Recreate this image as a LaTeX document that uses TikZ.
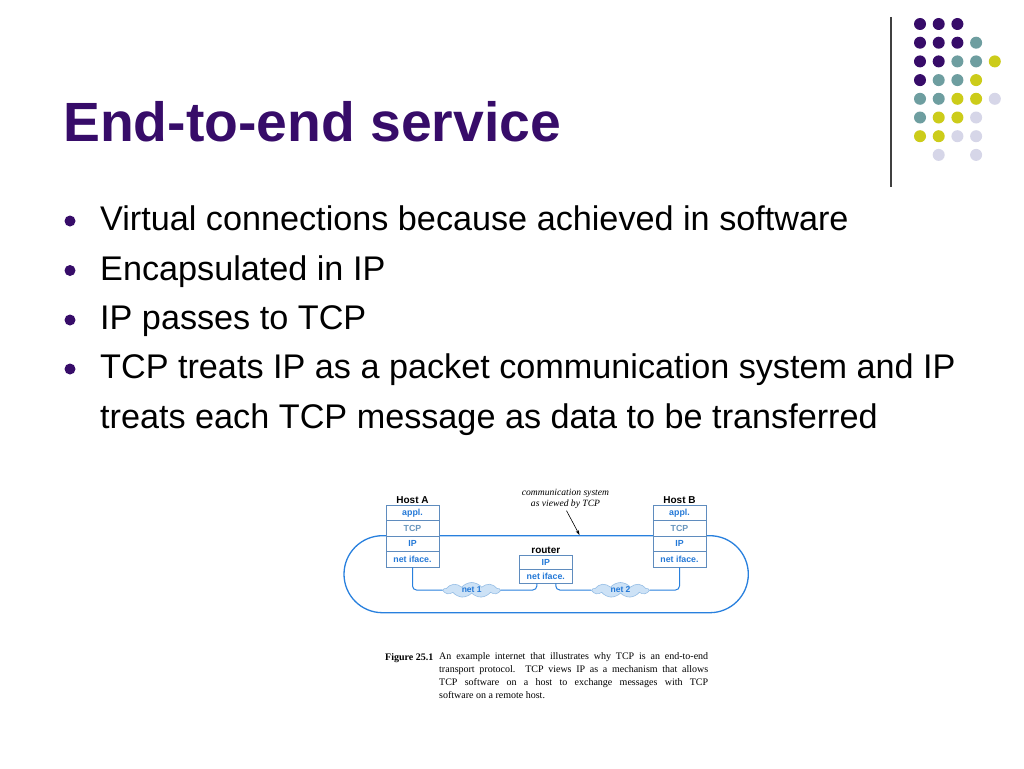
\documentclass[tikz,border=0pt]{standalone}
\usepackage{fontspec}
\setmainfont{Liberation Sans}
\newfontfamily\capserif{Liberation Serif}
\usetikzlibrary{shapes.symbols,arrows.meta}
\definecolor{dp}{RGB}{55,12,105}
\definecolor{dt}{RGB}{110,158,160}
\definecolor{dy}{RGB}{204,204,26}
\definecolor{dl}{RGB}{214,214,232}
\definecolor{netblue}{RGB}{40,128,222}
\definecolor{boxline}{RGB}{95,140,190}
\definecolor{txtblue}{RGB}{35,120,215}
\definecolor{tcpgray}{RGB}{105,150,190}
\definecolor{cloudfill}{RGB}{205,226,246}
\definecolor{cloudline}{RGB}{150,190,230}
\begin{document}
\begin{tikzpicture}[x=1pt,y=-1pt,
  bulletdot/.style={circle,fill=dp,minimum size=11pt,inner sep=0pt},
  bullettext/.style={anchor=base west,inner sep=0pt,font=\fontsize{34.2}{40}\selectfont,text=black},
  layer/.style={draw=boxline,line width=0.7pt,fill=white,minimum width=53pt,minimum height=15.5pt,inner sep=0pt,font=\fontsize{8.8}{10}\selectfont\bfseries,text=txtblue},
  tcplayer/.style={layer,text=tcpgray},
  hostlbl/.style={anchor=south,inner sep=1pt,font=\fontsize{10}{12}\selectfont\bfseries,text=black},
  netline/.style={draw=netblue,line width=1pt,rounded corners=4pt},
  netcloud/.style={cloud,cloud puffs=9,cloud puff arc=100,aspect=4,fill=cloudfill,draw=cloudline,line width=0.6pt,minimum width=56pt,minimum height=15pt,inner sep=0pt,font=\fontsize{8.5}{10}\selectfont\bfseries,text=txtblue}
]
\useasboundingbox[fill=white] (0,0) rectangle (1024,768);

% title
\node[anchor=base west,inner sep=0pt,font=\fontsize{55.3}{62}\selectfont\bfseries,text=dp] (title) at (63,141) {End-to-end service};

% decorative dots and rule
\draw[black!75,line width=1.2pt] (891,17) -- (891,187);
\foreach \c/\r/\col in {0/0/dp,1/0/dp,2/0/dp,
  0/1/dp,1/1/dp,2/1/dp,3/1/dt,
  0/2/dp,1/2/dp,2/2/dt,3/2/dt,4/2/dy,
  0/3/dp,1/3/dt,2/3/dt,3/3/dy,
  0/4/dt,1/4/dt,2/4/dy,3/4/dy,4/4/dl,
  0/5/dt,1/5/dy,2/5/dy,3/5/dl,
  0/6/dy,1/6/dy,2/6/dl,3/6/dl,
  1/7/dl,3/7/dl}
  \fill[\col] ({920+\c*18.7},{24+\r*18.7}) circle (6);

% bullets
\node[bulletdot] (d1) at (70,221) {};
\node[bullettext] (b1) at (100,230.5) {Virtual connections because achieved in software};
\node[bulletdot] (d2) at (70,270.5) {};
\node[bullettext] (b2) at (100,280) {Encapsulated in IP};
\node[bulletdot] (d3) at (70,320) {};
\node[bullettext] (b3) at (100,329.5) {IP passes to TCP};
\node[bulletdot] (d4) at (70,369) {};
\node[bullettext] (b4) at (100,378.5) {TCP treats IP as a packet communication system and IP};
\node[bullettext] (b5) at (100,428) {treats each TCP message as data to be transferred};

% diagram: virtual communication system
\draw[draw=netblue,line width=1.3pt,rounded corners=38.5pt] (344,535.7) rectangle (748.3,612.7);

% Host A
\node[layer] (a1) at (412.5,512.75) {appl.};
\node[tcplayer] (a2) at (412.5,528.25) {TCP};
\node[layer] (a3) at (412.5,543.75) {IP};
\node[layer] (a4) at (412.5,559.25) {net iface.};
\node[hostlbl] (ha) at (a1.north) {Host A};

% Host B
\node[layer] (b1l) at (679.5,512.75) {appl.};
\node[tcplayer] (b2l) at (679.5,528.25) {TCP};
\node[layer] (b3l) at (679.5,543.75) {IP};
\node[layer] (b4l) at (679.5,559.25) {net iface.};
\node[hostlbl] (hb) at (b1l.north) {Host B};

% router
\node[layer,minimum height=14pt] (r1) at (545.8,562.1) {IP};
\node[layer,minimum height=14pt] (r2) at (545.8,576.1) {net iface.};
\node[hostlbl] (rl) at (r1.north) {router};

% clouds
\node[netcloud] (n1) at (471.7,590) {net 1};
\node[netcloud] (n2) at (620.5,590) {net 2};

\draw[netline] (a4.south) |- (n1.west);
\draw[netline] (n1.east) -| ([xshift=-9pt]r2.south);
\draw[netline] ([xshift=10pt]r2.south) |- (n2.west);
\draw[netline] (n2.east) -| (b4l.south);

% label and arrow
\node[inner sep=0pt,align=center,font=\capserif\itshape\fontsize{9.6}{10.5}\selectfont] (cs) at (565.5,499) {communication system\\as viewed by TCP};
\coordinate (tip) at (579.5,535);
\draw[black,line width=0.6pt,-{Stealth[length=5pt,width=3.2pt]}] ([xshift=1pt,yshift=-2pt]cs.south) -- (tip);

% caption
\node[anchor=base west,inner sep=0pt,font=\capserif\bfseries\fontsize{10}{13}\selectfont] (figl) at (385,660.5) {Figure 25.1};
\node[anchor=north west,inner sep=0pt,text width=269pt,align=justify,font=\capserif\fontsize{10}{13}\selectfont] (cap) at (439,652) {An example internet that illustrates why TCP is an end-to-end\linebreak transport protocol. TCP views IP as a mechanism that allows\linebreak TCP software on a host to exchange messages with TCP\linebreak software on a remote host.};
\end{tikzpicture}
\end{document}
